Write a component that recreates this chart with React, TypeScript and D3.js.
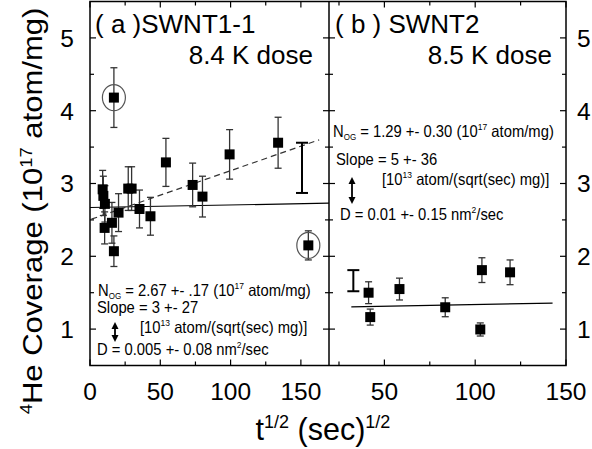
import React from 'react';
import * as d3 from 'd3';

// ---- Data ----
const aX = [9.0, 9.5, 10.6, 10.4, 15.6, 17.0, 17.0, 20.3, 27.2, 29.6, 35.2, 43.0, 54.0, 73.0, 80.0, 99.3, 133.8, 155.3];
const aY = [2.92, 2.83, 2.72, 2.39, 2.46, 2.07, 4.18, 2.60, 2.93, 2.93, 2.65, 2.55, 3.29, 2.98, 2.82, 3.40, 3.56, 2.15];
const aErr = [0.26, 0.27, 0.25, 0.22, 0.28, 0.21, 0.41, 0.26, 0.30, 0.30, 0.26, 0.26, 0.33, 0.30, 0.28, 0.34, 0.35, 0.20];
const aCircledX = [17.0, 155.3];
const aCircledY = [4.18, 2.15];
const aSolidX = [0, 170];
const aSolidY = [2.67, 2.73];
const aDashX = [1, 163];
const aDashY = [2.51, 3.6];
const aRepX = [150.8];
const aRepLo = [2.87];
const aRepHi = [3.56];

const bX = [41.3, 42.2, 58.3, 83.5, 102.8, 103.7, 119.2];
const bY = [1.50, 1.165, 1.55, 1.30, 0.995, 1.81, 1.78];
const bErr = [0.15, 0.11, 0.15, 0.13, 0.09, 0.17, 0.17];
const bFitX = [31.8, 142.6];
const bFitY = [1.306, 1.357];
const bRepX = [32.9];
const bRepLo = [1.52];
const bRepHi = [1.81];

const yMajor = [1, 2, 3, 4, 5];
const yMinor = [1.5, 2.5, 3.5, 4.5];
const aXMajor = [0, 50, 100, 150];
const bXMajor = [50, 100, 150];
const xMinor = [25, 75, 125];

const FONT = '"Liberation Sans", Arial, sans-serif';

function Ann({ x, y, children }: { x: number; y: number; children: React.ReactNode }) {
  return (
    <g transform={`translate(${x},${y}) scale(1,1.1)`}>
      <text x={0} y={0} fontSize={14.8} fill="#000">{children}</text>
    </g>
  );
}

export default function App() {
  const W = 592, H = 449;
  const left = 90, mid = 329, right = 566, top = 1.5, bottom = 365.5;
  const xA = d3.scaleLinear().domain([0, 170]).range([left, mid]);
  const xB = d3.scaleLinear().domain([19.5, 150]).range([mid, right]);
  const y = d3.scaleLinear().domain([0.5, 5.5]).range([bottom, top]);
  const line = (xs: number[], ys: number[], sx: d3.ScaleLinear<number, number>) =>
    d3.line<number>().x((_, i) => sx(xs[i])).y((d) => y(d))(ys) || '';

  const tickLen = 6, minorLen = 4;
  const sq = 10;
  const errCap = 3.5;

  const errBars = (xs: number[], ys: number[], es: number[], sx: any, key: string) =>
    xs.map((xv, i) => {
      const cx = sx(xv);
      const y1 = y(ys[i] + es[i]);
      const y2 = y(ys[i] - es[i]);
      return (
        <g key={key + i} stroke="#333" strokeWidth={1.3}>
          <line x1={cx} x2={cx} y1={y1} y2={y2} />
          <line x1={cx - errCap} x2={cx + errCap} y1={y1} y2={y1} />
          <line x1={cx - errCap} x2={cx + errCap} y1={y2} y2={y2} />
        </g>
      );
    });
  const squares = (xs: number[], ys: number[], sx: any, key: string) =>
    xs.map((xv, i) => (
      <rect key={key + i} x={sx(xv) - sq / 2} y={y(ys[i]) - sq / 2} width={sq} height={sq} fill="#000" />
    ));
  const repBar = (xs: number[], lo: number[], hi: number[], sx: any, key: string) =>
    xs.map((xv, i) => {
      const cx = sx(xv);
      return (
        <g key={key + i} stroke="#000" strokeWidth={2}>
          <line x1={cx} x2={cx} y1={y(hi[i])} y2={y(lo[i])} />
          <line x1={cx - 6} x2={cx + 6} y1={y(hi[i])} y2={y(hi[i])} />
          <line x1={cx - 6} x2={cx + 6} y1={y(lo[i])} y2={y(lo[i])} />
        </g>
      );
    });

  const arrow = (x: number, y1: number, y2: number) => (
    <g>
      <line x1={x} x2={x} y1={y1 + 4} y2={y2 - 4} stroke="#000" strokeWidth={1.8} />
      <path d={`M${x - 3.5},${y1 + 7} L${x},${y1} L${x + 3.5},${y1 + 7} Z`} fill="#000" />
      <path d={`M${x - 3.5},${y2 - 7} L${x},${y2} L${x + 3.5},${y2 - 7} Z`} fill="#000" />
    </g>
  );

  return (
    <svg width={W} height={H} style={{ position: 'absolute', left: 0, top: 0, background: '#fff' }} fontFamily={FONT}>
      <rect x={0} y={0} width={W} height={H} fill="#fff" />
      {/* frames */}
      <g fill="none" stroke="#000" strokeWidth={1.5}>
        <rect x={left} y={top} width={right - left} height={bottom - top} />
        <line x1={mid} x2={mid} y1={top} y2={bottom} />
      </g>
      {/* ticks */}
      <g stroke="#000" strokeWidth={1.2}>
        {yMajor.map((v) => (
          <g key={'ym' + v}>
            <line x1={left} x2={left + tickLen} y1={y(v)} y2={y(v)} />
            <line x1={mid - tickLen} x2={mid + tickLen} y1={y(v)} y2={y(v)} />
            <line x1={right - tickLen} x2={right} y1={y(v)} y2={y(v)} />
          </g>
        ))}
        {yMinor.map((v) => (
          <g key={'yn' + v}>
            <line x1={left} x2={left + minorLen} y1={y(v)} y2={y(v)} />
            <line x1={mid - minorLen} x2={mid + minorLen} y1={y(v)} y2={y(v)} />
            <line x1={right - minorLen} x2={right} y1={y(v)} y2={y(v)} />
          </g>
        ))}
        {aXMajor.map((v) => (
          <g key={'axm' + v}>
            <line x1={xA(v)} x2={xA(v)} y1={bottom} y2={bottom - tickLen} />
            <line x1={xA(v)} x2={xA(v)} y1={top} y2={top + tickLen} />
          </g>
        ))}
        {bXMajor.map((v) => (
          <g key={'bxm' + v}>
            <line x1={xB(v)} x2={xB(v)} y1={bottom} y2={bottom - tickLen} />
            <line x1={xB(v)} x2={xB(v)} y1={top} y2={top + tickLen} />
          </g>
        ))}
        {xMinor.map((v) => (
          <g key={'xn' + v}>
            <line x1={xA(v)} x2={xA(v)} y1={bottom} y2={bottom - minorLen} />
            <line x1={xA(v)} x2={xA(v)} y1={top} y2={top + minorLen} />
            <line x1={xB(v)} x2={xB(v)} y1={bottom} y2={bottom - minorLen} />
            <line x1={xB(v)} x2={xB(v)} y1={top} y2={top + minorLen} />
          </g>
        ))}
      </g>
      {/* tick labels */}
      <g fontSize={24.5} fill="#000">
        {yMajor.map((v) => (
          <text key={'yl' + v} x={74} y={y(v)} dy="0.36em" textAnchor="end">{v}</text>
        ))}
        {yMajor.map((v) => (
          <text key={'yr' + v} x={577} y={y(v)} dy="0.36em" textAnchor="start">{v}</text>
        ))}
        {aXMajor.map((v) => (
          <text key={'xa' + v} x={xA(v)} y={400} textAnchor="middle">{v}</text>
        ))}
        {bXMajor.map((v) => (
          <text key={'xb' + v} x={xB(v)} y={400} textAnchor="middle">{v}</text>
        ))}
      </g>
      {/* axis titles */}
      <text x={323} y={440} fontSize={30.5} textAnchor="middle">
        t<tspan dy={-12} fontSize={18}>1/2</tspan><tspan dy={12}> (sec)</tspan><tspan dy={-12} fontSize={18}>1/2</tspan>
      </text>
      <g transform="translate(42,211) scale(1,1.15) rotate(-90)">
        <text x={0} y={0} fontSize={27} textAnchor="middle">
          <tspan dy={-10} fontSize={16}>4</tspan><tspan dy={10}>He Coverage (10</tspan><tspan dy={-10} fontSize={16}>17</tspan><tspan dy={10}> atom/mg)</tspan>
        </text>
      </g>

      {/* panel a */}
      <path d={line(aSolidX, aSolidY, xA)} stroke="#000" strokeWidth={1.2} fill="none" />
      <path d={line(aDashX, aDashY, xA)} stroke="#333" strokeWidth={1.2} strokeDasharray="6,4" fill="none" />
      {errBars(aX, aY, aErr, xA, 'ea')}
      {repBar(aRepX, aRepLo, aRepHi, xA, 'ra')}
      {squares(aX, aY, xA, 'sa')}
      {aCircledX.map((v, i) => (
        <ellipse key={'c' + i} cx={xA(v)} cy={y(aCircledY[i])} rx={11.5} ry={13} fill="none" stroke="#555" strokeWidth={1.2} />
      ))}

      {/* panel b */}
      <path d={line(bFitX, bFitY, xB)} stroke="#000" strokeWidth={1.2} fill="none" />
      {errBars(bX, bY, bErr, xB, 'eb')}
      {repBar(bRepX, bRepLo, bRepHi, xB, 'rb')}
      {squares(bX, bY, xB, 'sb')}

      {/* titles */}
      <g fontSize={26} fill="#000">
        <text x={95} y={33}>( a )SWNT1-1</text>
        <text x={313} y={64} textAnchor="end">8.4 K dose</text>
        <text x={335} y={33}>( b ) SWNT2</text>
        <text x={552} y={64} textAnchor="end">8.5 K dose</text>
      </g>

      {/* annotations a */}
      <Ann x={98} y={296}>N<tspan dy={3} fontSize={8}>OG</tspan><tspan dy={-3}> = 2.67 +- .17 (10</tspan><tspan dy={-6} fontSize={8.5}>17</tspan><tspan dy={6}> atom/mg)</tspan></Ann>
      <Ann x={97} y={313}>Slope = 3 +- 27</Ann>
      <Ann x={140} y={333}>[10<tspan dy={-6} fontSize={8.5}>13</tspan><tspan dy={6}> atom/(sqrt(sec) mg)]</tspan></Ann>
      <Ann x={97} y={355}>D = 0.005 +- 0.08 nm<tspan dy={-6} fontSize={8.5}>2</tspan><tspan dy={6}>/sec</tspan></Ann>
      {arrow(115, 322, 342)}

      {/* annotations b */}
      <Ann x={333} y={137}>N<tspan dy={3} fontSize={8}>OG</tspan><tspan dy={-3}> = 1.29 +- 0.30 (10</tspan><tspan dy={-6} fontSize={8.5}>17</tspan><tspan dy={6}> atom/mg)</tspan></Ann>
      <Ann x={336} y={165}>Slope = 5 +- 36</Ann>
      <Ann x={382} y={185}>[10<tspan dy={-6} fontSize={8.5}>13</tspan><tspan dy={6}> atom/(sqrt(sec) mg)]</tspan></Ann>
      <Ann x={340} y={220}>D = 0.01 +- 0.15 nm<tspan dy={-6} fontSize={8.5}>2</tspan><tspan dy={6}>/sec</tspan></Ann>
      {arrow(352, 177, 204)}
    </svg>
  );
}
